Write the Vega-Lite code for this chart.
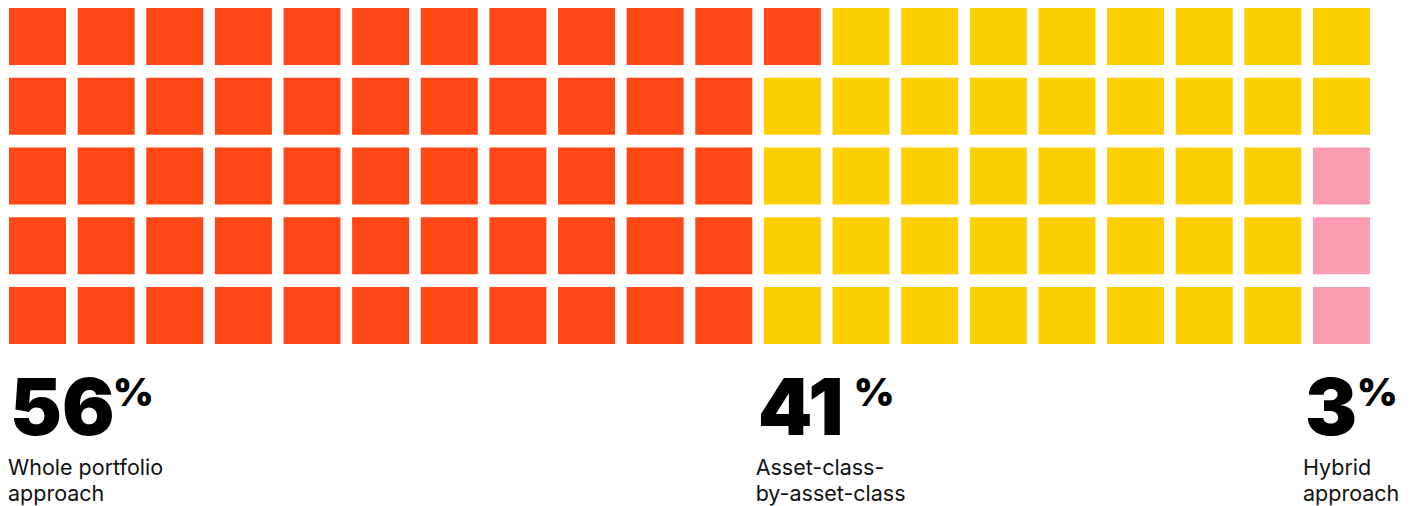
{
  "$schema": "https://vega.github.io/schema/vega-lite/v6.json",
  "width": 1415,
  "height": 506,
  "padding": 0,
  "autosize": {"type": "none"},
  "background": "white",
  "config": {"view": {"stroke": null}},
  "datasets": {
    "cells": [
      {"col":0,"row":0,"group":"Whole portfolio approach"},{"col":0,"row":1,"group":"Whole portfolio approach"},{"col":0,"row":2,"group":"Whole portfolio approach"},{"col":0,"row":3,"group":"Whole portfolio approach"},{"col":0,"row":4,"group":"Whole portfolio approach"},
      {"col":1,"row":0,"group":"Whole portfolio approach"},{"col":1,"row":1,"group":"Whole portfolio approach"},{"col":1,"row":2,"group":"Whole portfolio approach"},{"col":1,"row":3,"group":"Whole portfolio approach"},{"col":1,"row":4,"group":"Whole portfolio approach"},
      {"col":2,"row":0,"group":"Whole portfolio approach"},{"col":2,"row":1,"group":"Whole portfolio approach"},{"col":2,"row":2,"group":"Whole portfolio approach"},{"col":2,"row":3,"group":"Whole portfolio approach"},{"col":2,"row":4,"group":"Whole portfolio approach"},
      {"col":3,"row":0,"group":"Whole portfolio approach"},{"col":3,"row":1,"group":"Whole portfolio approach"},{"col":3,"row":2,"group":"Whole portfolio approach"},{"col":3,"row":3,"group":"Whole portfolio approach"},{"col":3,"row":4,"group":"Whole portfolio approach"},
      {"col":4,"row":0,"group":"Whole portfolio approach"},{"col":4,"row":1,"group":"Whole portfolio approach"},{"col":4,"row":2,"group":"Whole portfolio approach"},{"col":4,"row":3,"group":"Whole portfolio approach"},{"col":4,"row":4,"group":"Whole portfolio approach"},
      {"col":5,"row":0,"group":"Whole portfolio approach"},{"col":5,"row":1,"group":"Whole portfolio approach"},{"col":5,"row":2,"group":"Whole portfolio approach"},{"col":5,"row":3,"group":"Whole portfolio approach"},{"col":5,"row":4,"group":"Whole portfolio approach"},
      {"col":6,"row":0,"group":"Whole portfolio approach"},{"col":6,"row":1,"group":"Whole portfolio approach"},{"col":6,"row":2,"group":"Whole portfolio approach"},{"col":6,"row":3,"group":"Whole portfolio approach"},{"col":6,"row":4,"group":"Whole portfolio approach"},
      {"col":7,"row":0,"group":"Whole portfolio approach"},{"col":7,"row":1,"group":"Whole portfolio approach"},{"col":7,"row":2,"group":"Whole portfolio approach"},{"col":7,"row":3,"group":"Whole portfolio approach"},{"col":7,"row":4,"group":"Whole portfolio approach"},
      {"col":8,"row":0,"group":"Whole portfolio approach"},{"col":8,"row":1,"group":"Whole portfolio approach"},{"col":8,"row":2,"group":"Whole portfolio approach"},{"col":8,"row":3,"group":"Whole portfolio approach"},{"col":8,"row":4,"group":"Whole portfolio approach"},
      {"col":9,"row":0,"group":"Whole portfolio approach"},{"col":9,"row":1,"group":"Whole portfolio approach"},{"col":9,"row":2,"group":"Whole portfolio approach"},{"col":9,"row":3,"group":"Whole portfolio approach"},{"col":9,"row":4,"group":"Whole portfolio approach"},
      {"col":10,"row":0,"group":"Whole portfolio approach"},{"col":10,"row":1,"group":"Whole portfolio approach"},{"col":10,"row":2,"group":"Whole portfolio approach"},{"col":10,"row":3,"group":"Whole portfolio approach"},{"col":10,"row":4,"group":"Whole portfolio approach"},
      {"col":11,"row":0,"group":"Whole portfolio approach"},{"col":11,"row":1,"group":"Asset-class-by-asset-class"},{"col":11,"row":2,"group":"Asset-class-by-asset-class"},{"col":11,"row":3,"group":"Asset-class-by-asset-class"},{"col":11,"row":4,"group":"Asset-class-by-asset-class"},
      {"col":12,"row":0,"group":"Asset-class-by-asset-class"},{"col":12,"row":1,"group":"Asset-class-by-asset-class"},{"col":12,"row":2,"group":"Asset-class-by-asset-class"},{"col":12,"row":3,"group":"Asset-class-by-asset-class"},{"col":12,"row":4,"group":"Asset-class-by-asset-class"},
      {"col":13,"row":0,"group":"Asset-class-by-asset-class"},{"col":13,"row":1,"group":"Asset-class-by-asset-class"},{"col":13,"row":2,"group":"Asset-class-by-asset-class"},{"col":13,"row":3,"group":"Asset-class-by-asset-class"},{"col":13,"row":4,"group":"Asset-class-by-asset-class"},
      {"col":14,"row":0,"group":"Asset-class-by-asset-class"},{"col":14,"row":1,"group":"Asset-class-by-asset-class"},{"col":14,"row":2,"group":"Asset-class-by-asset-class"},{"col":14,"row":3,"group":"Asset-class-by-asset-class"},{"col":14,"row":4,"group":"Asset-class-by-asset-class"},
      {"col":15,"row":0,"group":"Asset-class-by-asset-class"},{"col":15,"row":1,"group":"Asset-class-by-asset-class"},{"col":15,"row":2,"group":"Asset-class-by-asset-class"},{"col":15,"row":3,"group":"Asset-class-by-asset-class"},{"col":15,"row":4,"group":"Asset-class-by-asset-class"},
      {"col":16,"row":0,"group":"Asset-class-by-asset-class"},{"col":16,"row":1,"group":"Asset-class-by-asset-class"},{"col":16,"row":2,"group":"Asset-class-by-asset-class"},{"col":16,"row":3,"group":"Asset-class-by-asset-class"},{"col":16,"row":4,"group":"Asset-class-by-asset-class"},
      {"col":17,"row":0,"group":"Asset-class-by-asset-class"},{"col":17,"row":1,"group":"Asset-class-by-asset-class"},{"col":17,"row":2,"group":"Asset-class-by-asset-class"},{"col":17,"row":3,"group":"Asset-class-by-asset-class"},{"col":17,"row":4,"group":"Asset-class-by-asset-class"},
      {"col":18,"row":0,"group":"Asset-class-by-asset-class"},{"col":18,"row":1,"group":"Asset-class-by-asset-class"},{"col":18,"row":2,"group":"Asset-class-by-asset-class"},{"col":18,"row":3,"group":"Asset-class-by-asset-class"},{"col":18,"row":4,"group":"Asset-class-by-asset-class"},
      {"col":19,"row":0,"group":"Asset-class-by-asset-class"},{"col":19,"row":1,"group":"Asset-class-by-asset-class"},{"col":19,"row":2,"group":"Hybrid approach"},{"col":19,"row":3,"group":"Hybrid approach"},{"col":19,"row":4,"group":"Hybrid approach"}
    ],
    "groups": [
      {"start": 0, "pct": "56", "label": ["Whole portfolio", "approach"]},
      {"start": 56, "pct": "41", "label": ["Asset-class-", "by-asset-class"]},
      {"start": 97, "pct": "3", "label": ["Hybrid", "approach"]}
    ]
  },
  "layer": [
    {
      "data": {"name": "cells"},
      "mark": {"type": "rect", "width": 57, "height": 57},
      "encoding": {
        "x": {"field": "col", "type": "quantitative", "scale": {"domain": [-0.5464, 20.0716], "nice": false, "zero": false}, "axis": null},
        "y": {"field": "row", "type": "quantitative", "scale": {"domain": [-0.5233, 6.7312], "nice": false, "zero": false, "reverse": true}, "axis": null},
        "color": {"field": "group", "type": "nominal", "scale": {"domain": ["Whole portfolio approach", "Asset-class-by-asset-class", "Hybrid approach"], "range": ["#FF4715", "#FDCE00", "#FC9BB4"]}, "legend": null}
      }
    },
    {
      "data": {"name": "groups"},
      "mark": {"type": "text", "align": "left", "baseline": "alphabetic", "font": "Inter", "fontSize": 78, "fontWeight": 900, "color": "#000000", "dx": 2},
      "encoding": {
        "x": {"field": "start", "type": "quantitative", "scale": {"domain": [-0.6, 105.39], "nice": false, "zero": false}, "axis": null},
        "y": {"datum": 5.7204, "type": "quantitative", "scale": {"domain": [-0.5233, 6.7312], "nice": false, "zero": false, "reverse": true}, "axis": null},
        "text": {"field": "pct"}
      }
    },
    {
      "data": {"name": "groups"},
      "transform": [{"filter": "datum.start == 0"}],
      "mark": {"type": "text", "align": "left", "baseline": "alphabetic", "font": "Inter", "fontSize": 39, "fontWeight": 900, "color": "#000000", "dx": 105},
      "encoding": {
        "x": {"field": "start", "type": "quantitative", "scale": {"domain": [-0.6, 105.39], "nice": false, "zero": false}, "axis": null},
        "y": {"datum": 5.2975, "type": "quantitative", "scale": {"domain": [-0.5233, 6.7312], "nice": false, "zero": false, "reverse": true}, "axis": null},
        "text": {"value": "%"}
      }
    },
    {
      "data": {"name": "groups"},
      "transform": [{"filter": "datum.start == 56"}],
      "mark": {"type": "text", "align": "left", "baseline": "alphabetic", "font": "Inter", "fontSize": 39, "fontWeight": 900, "color": "#000000", "dx": 98},
      "encoding": {
        "x": {"field": "start", "type": "quantitative", "scale": {"domain": [-0.6, 105.39], "nice": false, "zero": false}, "axis": null},
        "y": {"datum": 5.2975, "type": "quantitative", "scale": {"domain": [-0.5233, 6.7312], "nice": false, "zero": false, "reverse": true}, "axis": null},
        "text": {"value": "%"}
      }
    },
    {
      "data": {"name": "groups"},
      "transform": [{"filter": "datum.start == 97"}],
      "mark": {"type": "text", "align": "left", "baseline": "alphabetic", "font": "Inter", "fontSize": 39, "fontWeight": 900, "color": "#000000", "dx": 54},
      "encoding": {
        "x": {"field": "start", "type": "quantitative", "scale": {"domain": [-0.6, 105.39], "nice": false, "zero": false}, "axis": null},
        "y": {"datum": 5.2975, "type": "quantitative", "scale": {"domain": [-0.5233, 6.7312], "nice": false, "zero": false, "reverse": true}, "axis": null},
        "text": {"value": "%"}
      }
    },
    {
      "data": {"name": "groups"},
      "mark": {"type": "text", "align": "left", "baseline": "alphabetic", "font": "Inter", "fontSize": 21.5, "lineHeight": 26, "color": "#111111"},
      "encoding": {
        "x": {"field": "start", "type": "quantitative", "scale": {"domain": [-0.6, 105.39], "nice": false, "zero": false}, "axis": null},
        "y": {"datum": 6.2867, "type": "quantitative", "scale": {"domain": [-0.5233, 6.7312], "nice": false, "zero": false, "reverse": true}, "axis": null},
        "text": {"field": "label"}
      }
    }
  ],
  "resolve": {"scale": {"x": "independent"}}
}
